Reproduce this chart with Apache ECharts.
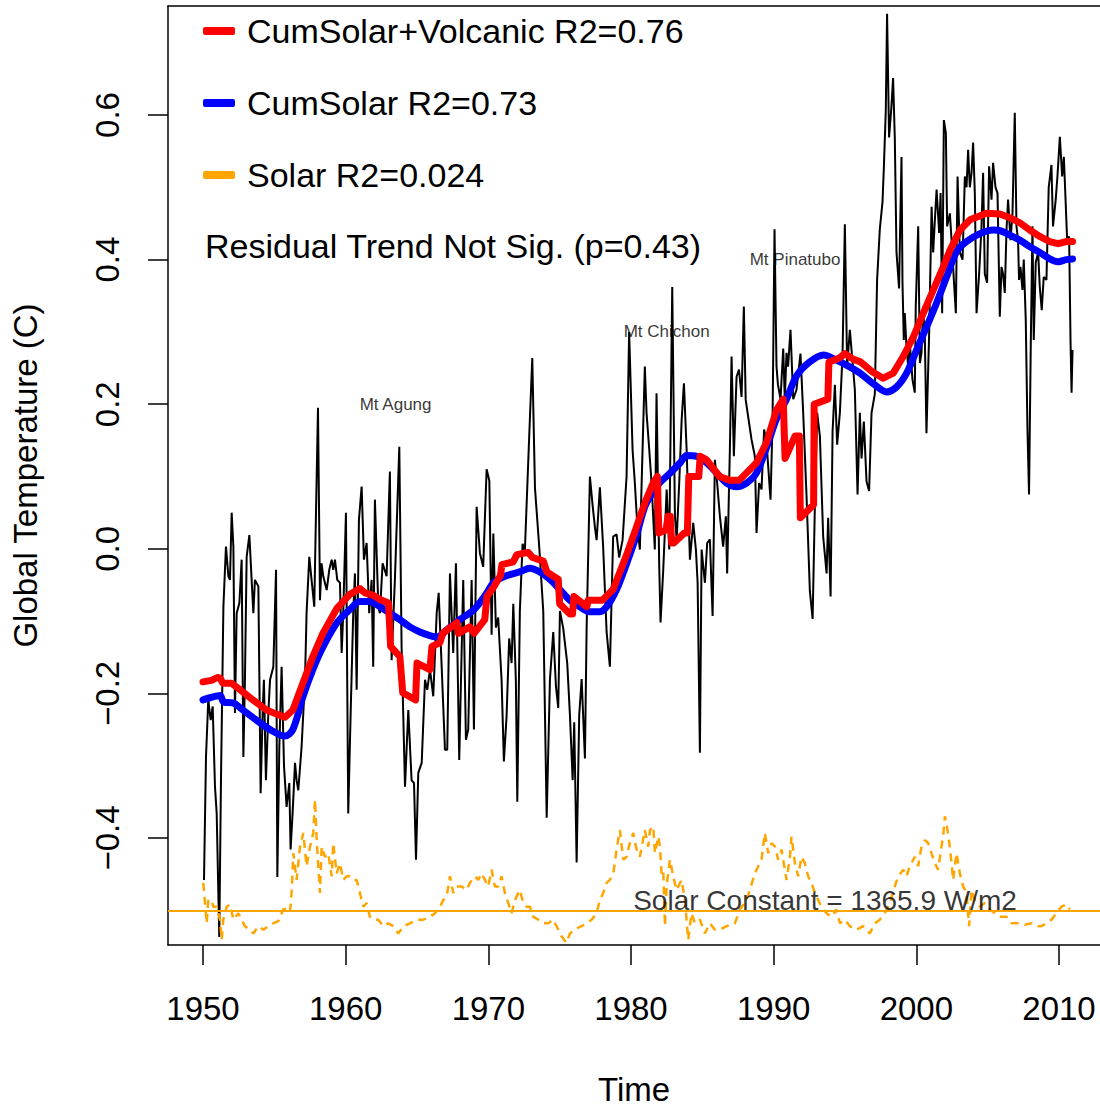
<!DOCTYPE html>
<html><head><meta charset="utf-8">
<script src="https://cdn.jsdelivr.net/npm/echarts@6/dist/echarts.min.js"></script>
<style>html,body{margin:0;padding:0;background:#fff}#c{width:1100px;height:1107px}</style>
</head><body><div id="c"></div>
<script>
const xTicks = [1950,1960,1970,1980,1990,2000,2010];
const yTicks = [-0.4,-0.2,0,0.2,0.4,0.6];
const seriesNames = ['CumSolar+Volcanic R2=0.76','CumSolar R2=0.73','Solar R2=0.024'];
const residualNote = 'Residual Trend Not Sig. (p=0.43)';
const solarConstantNote = 'Solar Constant = 1365.9 W/m2';
const solarConstant = -0.5;
const volcanoNames = ['Mt Agung','Mt Chichon','Mt Pinatubo'];
const volcanoX = [1963.5,1982.5,1991.5];
const volcanoY = [0.2,0.3,0.4];
const noteX = [1993.6];
const noteY = [-0.487];

const temperature = [
[1950.07,-0.458],[1950.21,-0.288],[1950.37,-0.209],[1950.54,-0.237],[1950.68,-0.218],[1950.84,-0.329],[1950.96,-0.366],[1951.14,-0.537],[1951.26,-0.32],[1951.43,-0.08],[1951.61,0.003],[1951.78,-0.038],[1951.89,-0.043],[1952.01,0.05],[1952.13,0.003],[1952.24,-0.227],[1952.36,-0.089],[1952.55,-0.075],[1952.71,-0.015],[1952.83,-0.288],[1952.94,-0.181],[1953.06,-0.011],[1953.25,0.019],[1953.41,-0.043],[1953.53,-0.089],[1953.64,-0.043],[1953.88,-0.052],[1954.04,-0.338],[1954.18,-0.227],[1954.27,-0.181],[1954.41,-0.32],[1954.58,-0.227],[1954.7,-0.181],[1954.93,-0.163],[1955.12,-0.029],[1955.21,-0.454],[1955.35,-0.274],[1955.51,-0.163],[1955.68,-0.301],[1955.86,-0.357],[1956.05,-0.324],[1956.14,-0.416],[1956.28,-0.366],[1956.45,-0.296],[1956.56,-0.32],[1956.68,-0.334],[1956.91,-0.274],[1957.15,-0.181],[1957.26,-0.089],[1957.45,-0.011],[1957.61,-0.043],[1957.8,-0.08],[1957.92,0.05],[1958.06,0.195],[1958.2,-0.071],[1958.31,-0.02],[1958.43,-0.038],[1958.67,-0.057],[1958.85,-0.029],[1959.02,-0.015],[1959.13,-0.029],[1959.25,-0.015],[1959.41,-0.043],[1959.6,-0.047],[1959.72,-0.144],[1959.83,-0.089],[1960.02,0.05],[1960.18,-0.366],[1960.35,-0.227],[1960.53,-0.089],[1960.65,-0.034],[1960.77,-0.195],[1960.93,0.04],[1961.12,0.086],[1961.28,-0.015],[1961.47,0.008],[1961.65,-0.089],[1961.82,-0.043],[1961.93,-0.163],[1962.05,0.068],[1962.29,-0.08],[1962.4,-0.089],[1962.59,-0.02],[1962.87,-0.038],[1963.1,0.107],[1963.22,-0.154],[1963.45,-0.043],[1963.62,0.058],[1963.76,0.141],[1963.92,-0.135],[1964.16,-0.329],[1964.39,-0.223],[1964.62,-0.32],[1964.79,-0.324],[1964.93,-0.43],[1965.09,-0.31],[1965.33,-0.296],[1965.56,-0.181],[1965.72,-0.195],[1965.91,-0.167],[1966.14,-0.204],[1966.38,-0.089],[1966.52,-0.061],[1966.73,-0.163],[1966.96,-0.278],[1967.12,-0.278],[1967.31,-0.034],[1967.54,-0.144],[1967.73,-0.02],[1967.96,-0.292],[1968.24,-0.043],[1968.43,-0.264],[1968.59,-0.25],[1968.83,-0.043],[1968.99,-0.25],[1969.18,0.058],[1969.41,-0.006],[1969.64,-0.025],[1969.88,0.11],
[1970.07,0.094],[1970.23,-0.119],[1970.35,0.021],[1970.53,-0.109],[1970.69,-0.095],[1970.93,-0.182],[1971.09,-0.294],[1971.28,-0.231],[1971.46,-0.124],[1971.63,-0.158],[1971.75,-0.076],[1971.93,-0.182],[1972.03,-0.35],[1972.21,-0.086],[1972.4,0.007],[1972.56,-0.003],[1972.87,0.158],[1973.08,0.264],[1973.27,0.084],[1973.57,0.002],[1973.85,-0.086],[1974.09,-0.372],[1974.32,-0.18],[1974.55,-0.115],[1974.74,-0.19],[1974.9,-0.22],[1975.02,-0.086],[1975.25,-0.11],[1975.53,-0.158],[1975.72,-0.23],[1975.91,-0.32],[1976.02,-0.24],[1976.19,-0.434],[1976.37,-0.23],[1976.54,-0.18],[1976.77,-0.29],[1976.89,-0.11],[1977.12,0.10],[1977.31,0.06],[1977.47,0.03],[1977.59,0.012],[1977.82,0.085],[1978.05,0.002],[1978.29,-0.115],[1978.52,-0.163],[1978.75,0.017],[1978.99,0.02],[1979.17,-0.012],[1979.41,0.012],[1979.69,0.10],[1979.87,0.30],
[1980.11,0.137],[1980.27,0.091],[1980.43,0.036],[1980.62,-0.001],[1980.81,0.137],[1980.97,0.252],[1981.09,0.188],[1981.28,0.137],[1981.44,0.091],[1981.67,-0.001],[1981.79,0.215],[1981.98,-0.025],[1982.07,-0.102],[1982.26,-0.029],[1982.5,0.082],[1982.68,-0.001],[1982.89,0.362],[1983.08,0.045],[1983.2,0.013],[1983.38,0.091],[1983.55,0.178],[1983.71,0.229],[1983.9,0.137],[1984.13,-0.015],[1984.36,0.036],[1984.55,-0.001],[1984.67,-0.047],[1984.83,-0.282],[1984.95,-0.001],[1985.18,-0.047],[1985.34,0.008],[1985.53,0.013],[1985.72,-0.093],[1985.88,0.123],[1986.04,0.091],[1986.23,0.045],[1986.46,0.003],[1986.65,0.045],[1986.74,-0.034],[1986.93,0.137],[1987.05,0.266],[1987.21,0.128],[1987.4,0.238],[1987.57,0.248],[1987.75,0.21],[1987.91,0.335],[1988.04,0.206],[1988.21,0.183],[1988.45,0.151],[1988.68,0.128],[1988.8,0.022],[1988.98,0.091],[1989.15,0.082],[1989.33,0.165],[1989.5,0.147],[1989.78,0.068],[1989.92,0.174],
[1990.06,0.442],[1990.2,0.252],[1990.3,0.227],[1990.48,0.207],[1990.67,0.277],[1990.78,0.207],[1990.9,0.271],[1991.01,0.252],[1991.18,0.303],[1991.37,0.207],[1991.6,0.22],[1991.88,0.27],[1992.07,0.188],[1992.3,0.075],[1992.54,-0.059],[1992.73,-0.097],[1992.89,0.061],[1993.05,0.188],[1993.24,0.156],[1993.47,0.017],[1993.71,-0.034],[1993.82,0.043],[1993.99,-0.066],[1994.13,0.163],[1994.29,0.227],[1994.45,0.144],[1994.64,0.188],[1994.83,0.27],[1994.99,0.449],[1995.15,0.252],[1995.34,0.303],[1995.53,0.258],[1995.69,0.22],[1995.88,0.075],[1996.04,0.188],[1996.16,0.125],[1996.32,0.176],[1996.51,0.093],[1996.69,0.08],[1996.86,0.188],[1997.09,0.214],[1997.25,0.372],[1997.44,0.442],[1997.63,0.48],[1997.72,0.525],[1997.86,0.607],[1997.95,0.74],[1998.09,0.569],[1998.26,0.613],[1998.37,0.651],[1998.49,0.569],[1998.61,0.41],[1998.79,0.36],[1998.85,0.427],[1998.96,0.542],[1999.03,0.368],[1999.12,0.289],[1999.19,0.326],[1999.31,0.28],[1999.43,0.252],[1999.54,0.285],[1999.73,0.234],[1999.89,0.216],[1999.96,0.335],
[2000.13,0.446],[2000.25,0.257],[2000.36,0.271],[2000.48,0.335],[2000.6,0.289],[2000.71,0.16],[2000.9,0.299],[2001.07,0.473],[2001.18,0.41],[2001.3,0.455],[2001.42,0.497],[2001.6,0.437],[2001.7,0.492],[2001.81,0.326],[2001.93,0.593],[2002.07,0.575],[2002.16,0.446],[2002.35,0.464],[2002.47,0.427],[2002.63,0.372],[2002.77,0.326],[2002.89,0.515],[2003.05,0.41],[2003.24,0.40],[2003.4,0.515],[2003.52,0.50],[2003.63,0.552],[2003.75,0.50],[2003.87,0.52],[2003.98,0.562],[2004.1,0.492],[2004.22,0.326],[2004.4,0.38],[2004.57,0.446],[2004.68,0.52],[2004.8,0.38],[2004.96,0.368],[2005.1,0.529],[2005.27,0.483],[2005.38,0.534],[2005.55,0.50],[2005.69,0.492],[2005.85,0.321],[2005.97,0.39],[2006.08,0.38],[2006.2,0.354],[2006.32,0.441],[2006.43,0.483],[2006.6,0.427],[2006.74,0.464],[2006.9,0.603],[2007.02,0.446],[2007.13,0.427],[2007.2,0.372],[2007.3,0.39],[2007.44,0.358],[2007.53,0.40],[2007.67,0.317],[2007.79,0.165],[2007.9,0.075],[2008.02,0.28],[2008.14,0.446],[2008.23,0.289],[2008.37,0.396],[2008.54,0.41],[2008.65,0.363],[2008.79,0.33],[2008.93,0.376],[2009.12,0.372],[2009.28,0.50],[2009.47,0.531],[2009.58,0.446],[2009.77,0.483],[2009.89,0.515],[2010.06,0.57],[2010.22,0.515],[2010.34,0.542],[2010.46,0.483],[2010.57,0.427],[2010.71,0.432],[2010.81,0.285],[2010.88,0.216],[2010.95,0.275]
];

const cumSolarVolcanic = [
[1950.0,-0.184],[1950.6,-0.182],[1951.0,-0.178],[1951.2,-0.179],[1951.4,-0.186],[1952.0,-0.186],[1952.6,-0.195],[1953.5,-0.209],[1954.45,-0.223],[1955.2,-0.229],[1955.75,-0.233],[1956.3,-0.223],[1957.0,-0.186],[1957.7,-0.149],[1958.4,-0.117],[1959.4,-0.082],[1960.3,-0.063],[1961.0,-0.055],[1961.35,-0.061],[1961.9,-0.064],[1962.4,-0.07],[1963.0,-0.075],[1963.15,-0.135],[1963.8,-0.149],[1964.0,-0.199],[1964.9,-0.209],[1965.0,-0.158],[1965.9,-0.167],[1966.05,-0.135],[1966.6,-0.13],[1966.8,-0.117],[1967.8,-0.102],[1967.9,-0.117],[1968.7,-0.108],[1969.0,-0.117],[1969.75,-0.098],[1969.9,-0.066],[1970.4,-0.052],[1970.85,-0.037],[1970.95,-0.022],[1971.75,-0.018],[1972.0,-0.008],[1972.8,-0.005],[1973.1,-0.012],[1973.85,-0.017],[1974.1,-0.032],[1974.9,-0.042],[1975.0,-0.076],[1975.7,-0.09],[1975.9,-0.09],[1976.0,-0.066],[1976.9,-0.08],[1977.0,-0.071],[1978.0,-0.071],[1978.75,-0.056],[1979.7,-0.008],[1980.4,0.031],[1981.0,0.065],[1981.55,0.091],[1981.85,0.1],[1981.95,0.022],[1982.45,0.026],[1982.6,0.045],[1982.75,0.045],[1982.85,0.008],[1983.0,0.008],[1983.75,0.022],[1983.95,0.022],[1984.05,0.1],[1984.75,0.1],[1984.85,0.128],[1985.3,0.123],[1986.2,0.1],[1986.9,0.095],[1987.6,0.095],[1988.1,0.105],[1988.8,0.119],[1989.5,0.147],[1990.2,0.192],[1990.67,0.207],[1990.8,0.125],[1991.5,0.156],[1991.8,0.156],[1991.87,0.043],[1992.5,0.055],[1992.8,0.061],[1992.84,0.2],[1993.8,0.207],[1993.87,0.258],[1994.6,0.264],[1995.0,0.27],[1995.6,0.262],[1996.05,0.259],[1996.9,0.245],[1997.68,0.236],[1998.38,0.243],[1999.08,0.266],[1999.79,0.293],[2000.49,0.326],[2001.19,0.358],[2001.89,0.39],[2002.36,0.413],[2003.06,0.441],[2003.76,0.455],[2004.93,0.464],[2005.86,0.463],[2006.55,0.458],[2007.25,0.451],[2007.95,0.441],[2008.65,0.432],[2009.35,0.425],[2009.94,0.422],[2010.5,0.425],[2010.95,0.425]
];

const cumSolar = [
[1950.0,-0.209],[1950.5,-0.206],[1951.2,-0.203],[1951.45,-0.212],[1952.1,-0.213],[1952.8,-0.223],[1953.75,-0.237],[1954.7,-0.25],[1955.75,-0.259],[1956.3,-0.25],[1957.0,-0.205],[1957.7,-0.167],[1958.4,-0.136],[1959.4,-0.102],[1960.3,-0.084],[1961.0,-0.073],[1961.7,-0.073],[1962.4,-0.08],[1963.1,-0.089],[1963.8,-0.098],[1964.5,-0.108],[1965.2,-0.115],[1965.9,-0.12],[1966.4,-0.122],[1967.1,-0.112],[1968.0,-0.098],[1969.0,-0.084],[1969.9,-0.061],[1970.35,-0.047],[1971.3,-0.037],[1972.2,-0.032],[1972.9,-0.027],[1973.6,-0.032],[1974.3,-0.042],[1975.0,-0.056],[1975.7,-0.071],[1976.4,-0.08],[1977.1,-0.087],[1977.8,-0.087],[1978.3,-0.08],[1979.0,-0.056],[1979.7,-0.02],[1980.4,0.02],[1981.0,0.06],[1981.6,0.08],[1982.0,0.091],[1982.75,0.105],[1983.45,0.119],[1983.9,0.129],[1984.6,0.128],[1985.3,0.119],[1986.0,0.105],[1986.7,0.091],[1987.4,0.086],[1988.1,0.091],[1988.8,0.105],[1989.5,0.14],[1990.2,0.18],[1990.9,0.207],[1991.6,0.239],[1992.5,0.258],[1993.5,0.268],[1994.4,0.261],[1995.3,0.252],[1996.05,0.243],[1997.0,0.228],[1997.92,0.217],[1998.62,0.224],[1999.32,0.243],[2000.02,0.275],[2000.72,0.307],[2001.42,0.34],[2002.12,0.376],[2002.82,0.411],[2003.52,0.425],[2004.46,0.436],[2005.39,0.441],[2005.86,0.44],[2006.55,0.434],[2007.25,0.427],[2007.95,0.418],[2008.65,0.41],[2009.35,0.401],[2009.94,0.397],[2010.5,0.40],[2010.95,0.401]
];

const solar = [
[1950.02,-0.462],[1950.14,-0.490],[1950.26,-0.518],[1950.37,-0.486],[1950.61,-0.486],[1950.72,-0.495],[1950.96,-0.495],[1951.19,-0.513],[1951.31,-0.541],[1951.42,-0.513],[1951.66,-0.495],[1951.89,-0.492],[1952.13,-0.513],[1952.48,-0.504],[1952.71,-0.513],[1952.94,-0.522],[1953.29,-0.527],[1953.53,-0.532],[1953.88,-0.522],[1954.23,-0.527],[1954.58,-0.522],[1954.93,-0.518],[1955.28,-0.515],[1955.63,-0.499],[1955.86,-0.497],[1956.10,-0.502],[1956.21,-0.476],[1956.33,-0.421],[1956.56,-0.458],[1956.80,-0.412],[1957.03,-0.393],[1957.26,-0.439],[1957.50,-0.412],[1957.73,-0.393],[1957.85,-0.347],[1957.97,-0.403],[1958.20,-0.476],[1958.32,-0.412],[1958.55,-0.426],[1958.78,-0.421],[1959.02,-0.453],[1959.13,-0.407],[1959.37,-0.449],[1959.60,-0.435],[1959.83,-0.458],[1960.07,-0.453],[1960.30,-0.453],[1960.53,-0.458],[1960.77,-0.458],[1961.00,-0.476],[1961.24,-0.495],[1961.47,-0.490],[1961.70,-0.509],[1961.94,-0.513],[1962.29,-0.513],[1962.64,-0.522],[1962.99,-0.518],[1963.34,-0.522],[1963.69,-0.532],[1964.04,-0.522],[1964.51,-0.518],[1964.97,-0.513],[1965.44,-0.513],[1965.91,-0.509],[1966.26,-0.504],[1966.61,-0.495],[1966.84,-0.486],[1967.08,-0.481],[1967.31,-0.453],[1967.54,-0.476],[1967.78,-0.467],[1968.13,-0.467],[1968.48,-0.472],[1968.71,-0.462],[1969.06,-0.453],[1969.29,-0.458],[1969.53,-0.449],[1969.76,-0.458],[1969.99,-0.467],[1970.23,-0.444],[1970.46,-0.467],[1970.70,-0.467],[1970.93,-0.453],[1971.16,-0.476],[1971.40,-0.490],[1971.63,-0.504],[1971.86,-0.486],[1972.21,-0.472],[1972.45,-0.490],[1972.68,-0.495],[1972.92,-0.495],[1973.15,-0.509],[1973.50,-0.513],[1973.85,-0.518],[1974.20,-0.518],[1974.55,-0.513],[1974.78,-0.522],[1975.13,-0.536],[1975.48,-0.545],[1975.72,-0.532],[1976.19,-0.525],[1976.54,-0.522],[1976.89,-0.518],[1977.24,-0.513],[1977.59,-0.504],[1977.82,-0.486],[1978.05,-0.476],[1978.29,-0.462],[1978.52,-0.458],[1978.76,-0.449],[1978.99,-0.416],[1979.22,-0.389],[1979.46,-0.430],[1979.69,-0.426],[1979.92,-0.407],[1980.16,-0.393],[1980.39,-0.416],[1980.62,-0.426],[1980.97,-0.389],[1981.21,-0.412],[1981.33,-0.389],[1981.56,-0.384],[1981.68,-0.421],[1981.91,-0.398],[1982.03,-0.412],[1982.14,-0.449],[1982.26,-0.444],[1982.38,-0.522],[1982.49,-0.467],[1982.73,-0.430],[1982.96,-0.453],[1983.19,-0.472],[1983.54,-0.458],[1983.78,-0.486],[1984.01,-0.541],[1984.24,-0.504],[1984.48,-0.518],[1984.83,-0.513],[1985.18,-0.532],[1985.53,-0.518],[1985.88,-0.527],[1986.23,-0.527],[1986.70,-0.522],[1987.28,-0.518],[1987.63,-0.499],[1988.10,-0.486],[1988.33,-0.472],[1988.68,-0.449],[1988.92,-0.439],[1989.15,-0.430],[1989.38,-0.393],[1989.62,-0.421],[1989.85,-0.407],[1990.09,-0.412],[1990.32,-0.430],[1990.55,-0.416],[1990.90,-0.458],[1991.14,-0.426],[1991.25,-0.398],[1991.49,-0.435],[1991.72,-0.453],[1991.95,-0.426],[1992.19,-0.435],[1992.42,-0.453],[1992.65,-0.462],[1992.89,-0.476],[1993.12,-0.486],[1993.35,-0.495],[1993.71,-0.504],[1994.06,-0.509],[1994.41,-0.499],[1994.64,-0.518],[1994.99,-0.513],[1995.34,-0.522],[1995.81,-0.527],[1996.27,-0.522],[1996.74,-0.532],[1997.09,-0.518],[1997.44,-0.513],[1997.79,-0.504],[1998.14,-0.490],[1998.49,-0.467],[1998.73,-0.453],[1999.08,-0.444],[1999.31,-0.453],[1999.54,-0.439],[1999.90,-0.426],[2000.13,-0.439],[2000.36,-0.412],[2000.60,-0.403],[2000.83,-0.407],[2001.06,-0.421],[2001.30,-0.435],[2001.53,-0.444],[2001.76,-0.412],[2001.88,-0.398],[2002.00,-0.370],[2002.11,-0.379],[2002.35,-0.412],[2002.58,-0.458],[2002.82,-0.421],[2003.05,-0.449],[2003.28,-0.467],[2003.52,-0.476],[2003.70,-0.522],[2003.87,-0.472],[2004.10,-0.486],[2004.45,-0.495],[2004.80,-0.490],[2005.15,-0.499],[2005.50,-0.504],[2005.85,-0.509],[2006.32,-0.509],[2006.67,-0.518],[2007.14,-0.518],[2007.61,-0.520],[2008.07,-0.518],[2008.42,-0.522],[2008.77,-0.522],[2009.12,-0.518],[2009.47,-0.513],[2009.82,-0.504],[2010.17,-0.495],[2010.52,-0.492],[2010.76,-0.499]
];

const FONT = '"Liberation Sans", Arial, Helvetica, sans-serif';
const X_MIN = 1947.547, X_MAX = 2012.874, Y_MIN = -0.548, Y_MAX = 0.7508;
const chart = echarts.init(document.getElementById('c'), null, {renderer: 'svg'});
const fmtY = v => (v < 0 ? '\u2212' : '') + Math.abs(v).toFixed(1);
const boxLine = {show: true, onZero: false, lineStyle: {color: '#000', width: 1.5}};

chart.setOption({
  animation: false,
  backgroundColor: '#fff',
  grid: {left: 168, top: 6, width: 932, height: 939, show: false, containLabel: false, outerBoundsMode: 'none'},
  xAxis: [{
    type: 'value', min: X_MIN, max: X_MAX, position: 'bottom',
    name: 'Time', nameLocation: 'middle', nameGap: 128,
    nameTextStyle: {fontSize: 33, fontFamily: FONT, color: '#000'},
    axisLine: boxLine,
    splitLine: {show: false},
    axisTick: {show: true, customValues: xTicks, length: 20, inside: false, lineStyle: {color: '#000', width: 1.5}},
    axisLabel: {customValues: xTicks, fontSize: 33, fontFamily: FONT, color: '#000', margin: 47, formatter: v => String(v)}
  }, {
    type: 'value', min: X_MIN, max: X_MAX, position: 'top',
    axisLine: boxLine, axisTick: {show: false}, axisLabel: {show: false}, splitLine: {show: false}
  }],
  yAxis: {
    type: 'value', min: Y_MIN, max: Y_MAX, position: 'left',
    name: 'Global Temperature (C)', nameLocation: 'middle', nameGap: 126, nameRotate: 90,
    nameTextStyle: {fontSize: 33, fontFamily: FONT, color: '#000'},
    axisLine: boxLine,
    splitLine: {show: false},
    axisTick: {show: true, customValues: yTicks, length: 20, inside: false, lineStyle: {color: '#000', width: 1.5}},
    axisLabel: {customValues: yTicks, rotate: 90, fontSize: 33, fontFamily: FONT, color: '#000', margin: 44, formatter: fmtY}
  },
  legend: {
    data: seriesNames, orient: 'vertical', left: 203, top: 14, padding: 0, itemWidth: 32, itemHeight: 8, itemGap: 38,
    icon: 'roundRect', selectedMode: false,
    textStyle: {fontSize: 34, fontFamily: FONT, color: '#000', padding: [0, 0, 0, 7]}
  },
  graphic: [
    {type: 'text', left: 205, top: 229, style: {text: residualNote, font: '34px ' + FONT, fill: '#000'}}
  ],
  series: [
    {type: 'line', name: 'Temperature', data: temperature, symbol: 'none', lineStyle: {color: '#000', width: 2}, z: 2},
    {type: 'line', name: seriesNames[2], data: solar, symbol: 'none', z: 3,
      lineStyle: {color: '#FFA500', width: 2.5, type: [8, 6]}, itemStyle: {color: '#FFA500'},
      markLine: {silent: true, symbol: ['none', 'none'], label: {show: false},
        lineStyle: {color: '#FFA500', type: 'solid', width: 2}, data: [{yAxis: solarConstant}]}},
    {type: 'line', name: seriesNames[1], data: cumSolar, symbol: 'none', smooth: 0.3, z: 4,
      lineStyle: {color: '#0000FF', width: 7, cap: 'round', join: 'round'}, itemStyle: {color: '#0000FF'}},
    {type: 'line', name: seriesNames[0], data: cumSolarVolcanic, symbol: 'none', z: 5,
      lineStyle: {color: '#FF0000', width: 7, cap: 'round', join: 'round'}, itemStyle: {color: '#FF0000'}},
    {type: 'scatter', name: 'volcanoes', z: 6, symbolSize: 1, itemStyle: {color: 'rgba(0,0,0,0)'},
      data: volcanoX.map((x, i) => [x, volcanoY[i]]),
      label: {show: true, position: 'inside', fontSize: 17, fontFamily: FONT, color: '#000', formatter: p => volcanoNames[p.dataIndex]}},
    {type: 'scatter', name: 'note', z: 6, symbolSize: 1, itemStyle: {color: 'rgba(0,0,0,0)'},
      data: noteX.map((x, i) => [x, noteY[i]]),
      label: {show: true, position: 'inside', fontSize: 28, fontFamily: FONT, color: '#000', formatter: () => solarConstantNote}}
  ]
});
</script>
</body></html>
